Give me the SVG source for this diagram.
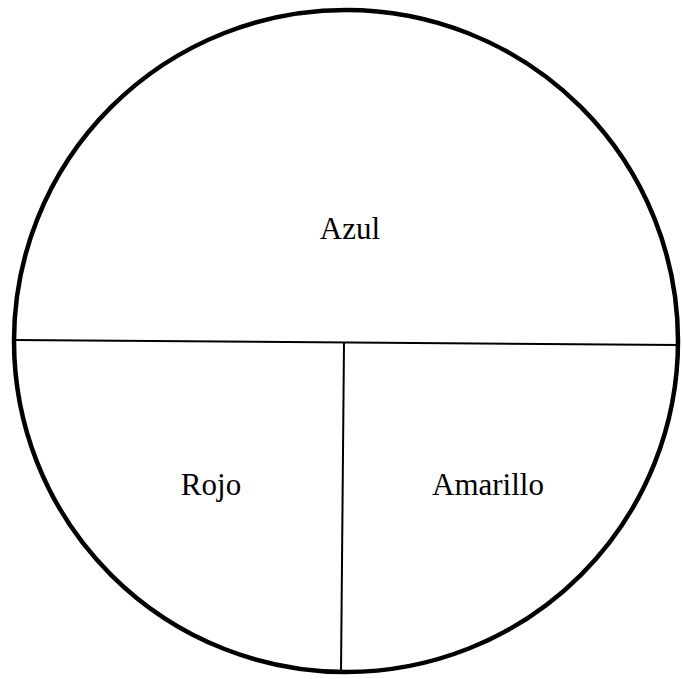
<svg xmlns="http://www.w3.org/2000/svg" width="683" height="679" viewBox="0 0 683 679">
<style>
.c{fill:#fff;stroke:#000;stroke-width:4.5}
.l{stroke:#000;stroke-width:2;fill:none}
.t{font-family:"Liberation Serif",serif;font-size:31px;fill:#000;text-anchor:middle}
</style>
<rect width="683" height="679" fill="#fff"/>
<ellipse class="c" cx="346" cy="341" rx="332" ry="331"/>
<g id="connectors">
<line class="l" x1="14" y1="340" x2="678" y2="345"/>
<line class="l" x1="344" y1="343" x2="341" y2="672"/>
</g>
<g id="azul"><text class="t" x="350" y="239">Azul</text></g>
<g id="rojo"><text class="t" x="211" y="495">Rojo</text></g>
<g id="amarillo"><text class="t" x="488" y="495">Amarillo</text></g>
</svg>
